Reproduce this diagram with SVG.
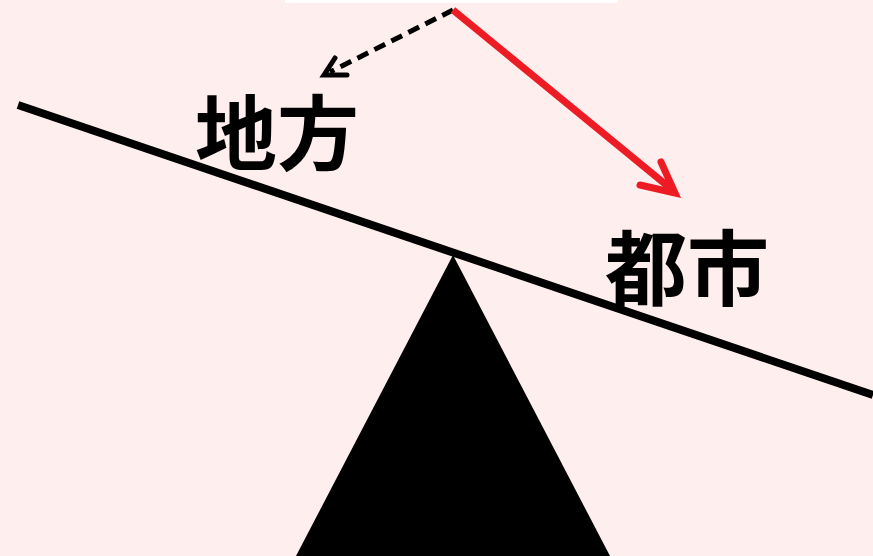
<svg xmlns="http://www.w3.org/2000/svg" width="873" height="556" viewBox="0 0 873 556">
<style>
.lbl{font-family:"Noto Sans CJK JP","Noto Sans CJK SC",sans-serif;font-weight:700;font-size:82px;fill:#000}
</style>
<rect width="873" height="556" fill="#FFEEEE"/>
<rect x="285" y="0" width="333" height="3" fill="#FFFFFF"/>
<g id="fulcrum"><polygon points="453,255 296,556 610,556" fill="#000"/></g>
<g id="beam"><line x1="18" y1="105" x2="873" y2="395" stroke="#000" stroke-width="8"/></g>
<g id="label-chiho"><text class="lbl" x="195" y="164">地方</text></g>
<g id="label-toshi"><text class="lbl" x="605" y="299">都市</text></g>
<g id="connectors">
<line x1="453" y1="10" x2="330" y2="72" stroke="#000" stroke-width="5" stroke-dasharray="12,7"/>
<polyline points="335,58 324,75 347,75" fill="none" stroke="#000" stroke-width="5" stroke-linecap="round" stroke-linejoin="miter"/>
<line x1="453" y1="10" x2="670" y2="188" stroke="#ED1C24" stroke-width="7"/>
<polyline points="661,162 675,193 640,185" fill="none" stroke="#ED1C24" stroke-width="7" stroke-linecap="round" stroke-linejoin="miter"/>
</g>
</svg>
